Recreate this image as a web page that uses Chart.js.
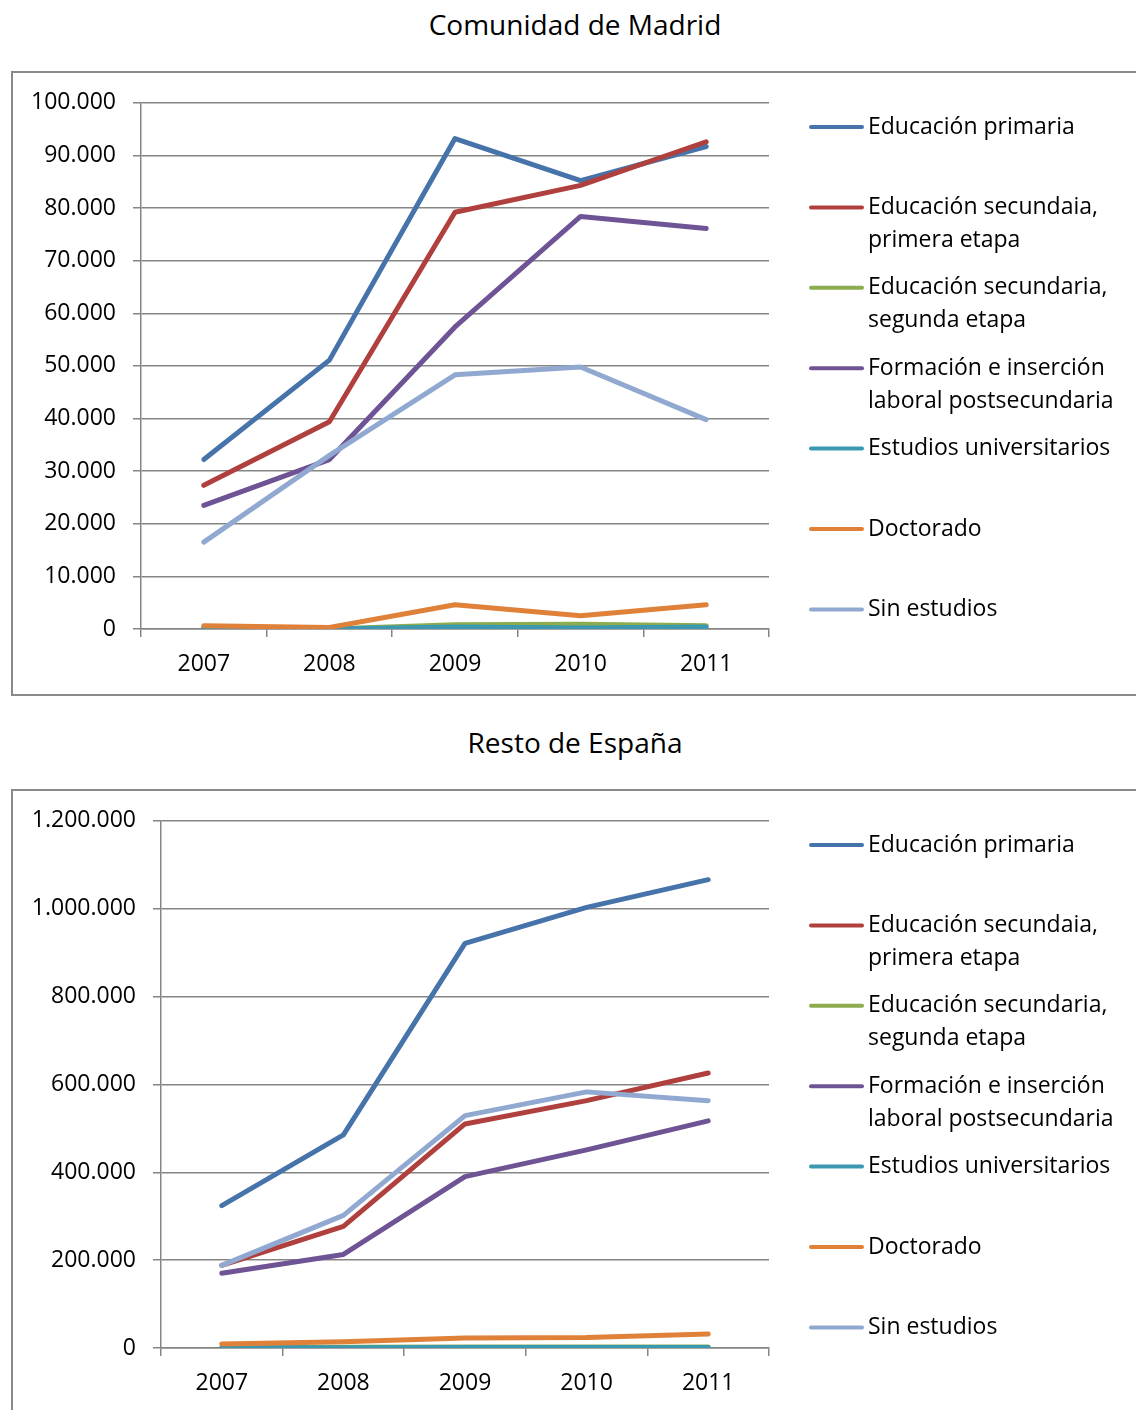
<!DOCTYPE html>
<html>
<head>
<meta charset="utf-8">
<script src="https://cdn.jsdelivr.net/npm/chart.js@4.4.1/dist/chart.umd.min.js"></script>
<style>
    body { margin: 0; background: #fff; width: 1136px; height: 1410px; overflow: hidden; position: relative; font-family: "Open Sans", sans-serif; }
    .titulo { position: absolute; left: 0; width: 1150px; text-align: center; font-size: 28px; color: #000; }
    .caja { position: absolute; left: 11px; width: 1140px; border: 2px solid #8a8a8a; box-sizing: border-box; }
    canvas { position: absolute; left: 0; }
</style>
</head>
<body>
<div class="titulo" style="top: 5px;">Comunidad de Madrid</div>
<div class="caja" style="top: 71px; height: 625px;"></div>
<canvas id="graficoMadrid" style="top: 72px;" width="1136" height="623"></canvas>

<div class="titulo" style="top: 723px;">Resto de España</div>
<div class="caja" style="top: 789px; height: 640px;"></div>
<canvas id="graficoEspana" style="top: 790px;" width="1136" height="620"></canvas>

<script>
const anos = ['2007', '2008', '2009', '2010', '2011'];

const series = [
    ['Educación primaria'],
    ['Educación secundaia,', 'primera etapa'],
    ['Educación secundaria,', 'segunda etapa'],
    ['Formación e inserción', 'laboral postsecundaria'],
    ['Estudios universitarios'],
    ['Doctorado'],
    ['Sin estudios']
];

const cores = ['#4674AA', '#B0403D', '#8BAD4F', '#6E5494', '#3C97B0', '#E0813A', '#91A9D0'];

// Comunidad de Madrid
const madridPrimaria = [32200, 51100, 93200, 85200, 91700];
const madridSecPrimera = [27300, 39400, 79200, 84300, 92600];
const madridSecSegunda = [300, 0, 800, 900, 600];
const madridFormacion = [23500, 32200, 57400, 78400, 76100];
const madridUniversitarios = [200, 0, 400, 200, 400];
const madridDoctorado = [600, 300, 4600, 2500, 4600];
const madridSinEstudios = [16500, 33000, 48300, 49800, 39800];
const madridTicks = { max: 100000, step: 10000 };

// Resto de España
const espanaPrimaria = [324000, 485000, 921000, 1003000, 1066000];
const espanaSecPrimera = [188000, 277000, 510000, 563000, 626000];
const espanaSecSegunda = [1000, 1500, 2000, 2000, 2500];
const espanaFormacion = [170000, 213000, 390000, 451000, 517000];
const espanaUniversitarios = [500, 800, 1000, 1000, 1200];
const espanaDoctorado = [9000, 14000, 23000, 24000, 32000];
const espanaSinEstudios = [188000, 302000, 529000, 583000, 563000];
const espanaTicks = { max: 1200000, step: 200000 };

function formatar(v) {
    return String(v).replace(/\B(?=(\d{3})+(?!\d))/g, '.');
}

const legendaLateral = {
    id: 'legendaLateral',
    afterDraw(chart) {
        const c = chart.ctx;
        c.save();
        c.font = '23px "Open Sans"';
        c.textBaseline = 'middle';
        c.fillStyle = '#000';
        chart.data.datasets.forEach((ds, i) => {
            const y = 55 + i * 80.4;
            c.strokeStyle = ds.borderColor;
            c.lineWidth = 4;
            c.lineCap = 'round';
            c.beginPath();
            c.moveTo(811, y);
            c.lineTo(862, y);
            c.stroke();
            ds.linhas.forEach((t, k) => c.fillText(t, 868, y + k * 33));
        });
        c.restore();
    }
};

function criarGrafico(id, valores, ticks, larguraEixo, alturaEixo) {
    const ctx = document.getElementById(id);
    new Chart(ctx, {
        type: 'line',
        data: {
            labels: anos,
            datasets: valores.map((v, i) => ({
                label: series[i].join(' '),
                linhas: series[i],
                data: v,
                borderColor: cores[i],
                backgroundColor: cores[i],
                borderWidth: 5,
                borderCapStyle: 'round',
                borderJoinStyle: 'round',
                pointRadius: 0,
                tension: 0,
                order: valores.length - i
            }))
        },
        options: {
            responsive: false,
            animation: false,
            layout: { padding: { top: 29, right: 367, left: 0, bottom: 0 } },
            plugins: {
                legend: { display: false },
                tooltip: { enabled: false }
            },
            scales: {
                x: {
                    offset: true,
                    afterFit: (axis) => { axis.height = alturaEixo; },
                    grid: { offset: true, drawOnChartArea: false, drawTicks: true, tickLength: 8, color: '#858585', lineWidth: 1.5 },
                    border: { color: '#858585', width: 1.5 },
                    ticks: { color: '#000', font: { family: 'Open Sans', size: 23 }, padding: 14, maxRotation: 0 }
                },
                y: {
                    min: 0,
                    max: ticks.max,
                    afterFit: (axis) => { axis.width = larguraEixo; },
                    grid: { color: '#858585', lineWidth: 1.5, tickLength: 8 },
                    border: { color: '#858585', width: 1.5 },
                    ticks: {
                        stepSize: ticks.step,
                        color: '#000',
                        font: { family: 'Open Sans', size: 23 },
                        padding: 17,
                        callback: (v) => formatar(v)
                    }
                }
            }
        },
        plugins: [legendaLateral]
    });
}

criarGrafico('graficoMadrid', [madridPrimaria, madridSecPrimera, madridSecSegunda, madridFormacion,
    madridUniversitarios, madridDoctorado, madridSinEstudios], madridTicks, 141, 66);

criarGrafico('graficoEspana', [espanaPrimaria, espanaSecPrimera, espanaSecSegunda, espanaFormacion,
    espanaUniversitarios, espanaDoctorado, espanaSinEstudios], espanaTicks, 161, 62);
</script>
</body>
</html>
